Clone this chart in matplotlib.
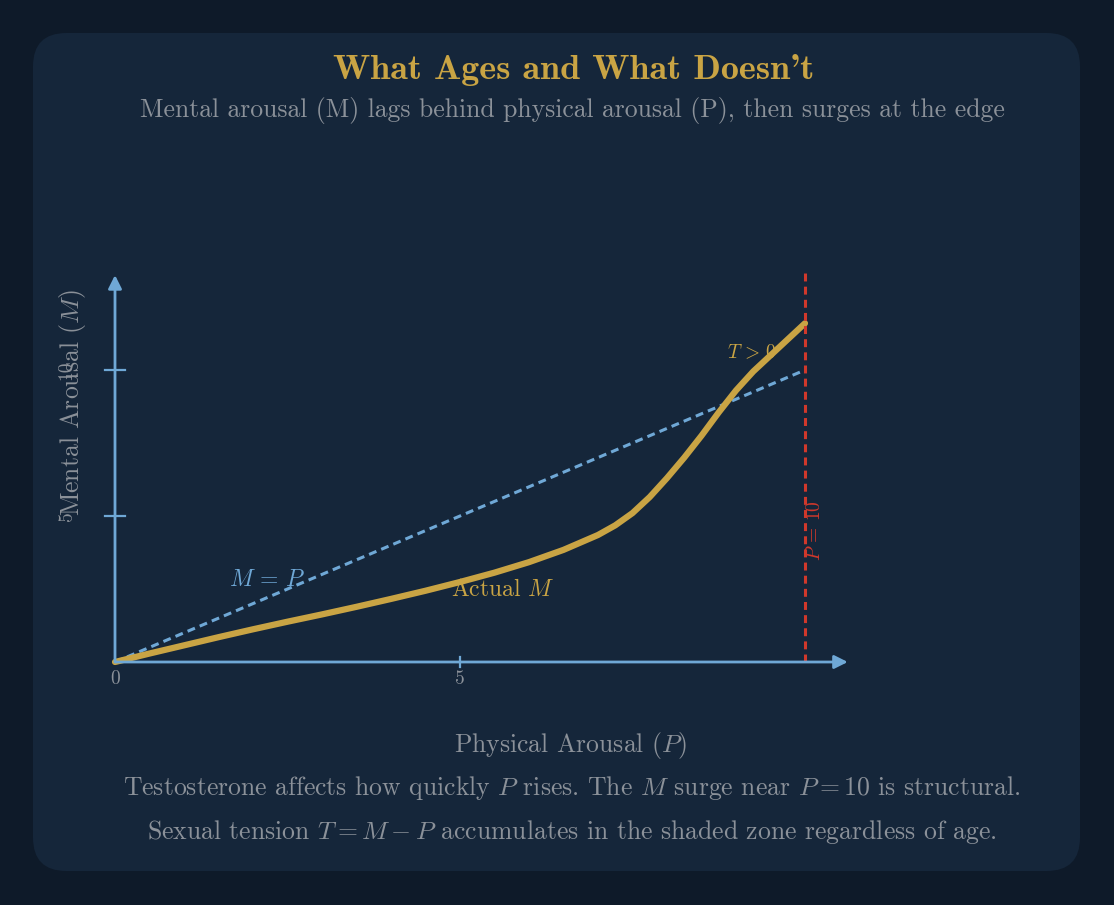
import matplotlib
matplotlib.use('Agg')
import matplotlib.pyplot as plt
from matplotlib.patches import FancyBboxPatch

# chart data
p_vals = [0, 0.5, 1, 1.5, 2, 2.5, 3, 3.5, 4, 4.5, 5, 5.5, 6, 6.5, 7, 7.25, 7.5, 7.75,
          8, 8.25, 8.5, 8.75, 9, 9.25, 9.5, 9.75, 10]
m_actual = [0, 0.29, 0.57, 0.85, 1.12, 1.38, 1.63, 1.89, 2.16, 2.44, 2.74, 3.06, 3.42, 3.84,
            4.35, 4.68, 5.1, 5.65, 6.3, 7.0, 7.75, 8.55, 9.3, 9.95, 10.5, 11.05, 11.6]
diag_p = [0, 10]
diag_m = [0, 10]
x_ticks = [0, 5]
y_ticks = [5, 10]
limit_p = 10

title = "What Ages and What Doesn't"
subtitle = "Mental arousal (M) lags behind physical arousal (P), then surges at the edge"
footer1 = r"Testosterone affects how quickly $P$ rises. The $M$ surge near $P = 10$ is structural."
footer2 = r"Sexual tension $T = M - P$ accumulates in the shaded zone regardless of age."

BG = '#0e1a29'
PANEL = '#15263a'
GOLD = '#c9a444'
GREY = '#8b9199'
BLUE = '#6fa8d6'
RED = '#d0382b'

plt.rcParams['font.family'] = ['cmr10', 'DejaVu Serif']
plt.rcParams['mathtext.fontset'] = 'cm'
plt.rcParams['axes.unicode_minus'] = False

W, H = 1114, 905
fig = plt.figure(figsize=(W / 100, H / 100), dpi=100, facecolor=BG)

def fx(px):
    return px / W

def fy(py):
    return 1 - py / H

# rounded panel
panel = FancyBboxPatch((fx(33), fy(871)), fx(1080) - fx(33), fy(33) - fy(871),
                       boxstyle='round,pad=0,rounding_size=0.03',
                       transform=fig.transFigure, facecolor=PANEL, edgecolor='none',
                       mutation_aspect=W / H, zorder=-5)
fig.patches.append(panel)

# axes mapped so that data P/M land where the reference puts them
ax = fig.add_axes([0, 0, 1, 1])
ax.set_zorder(3)
ax.set_facecolor('none')
ax.axis('off')
sx, sy = 69.0, 29.2
ox, oy = 115, 662
ax.set_xlim(-ox / sx, (W - ox) / sx)
ax.set_ylim(-(H - oy) / sy, oy / sy)

# axes arrows
ax.annotate('', xy=(10.62, 0), xytext=(0, 0),
            arrowprops=dict(arrowstyle='-|>', color=BLUE, lw=2, mutation_scale=20,
                            shrinkA=0, shrinkB=0))
ax.annotate('', xy=(0, 13.25), xytext=(0, 0),
            arrowprops=dict(arrowstyle='-|>', color=BLUE, lw=2, mutation_scale=20,
                            shrinkA=0, shrinkB=0))

for t in x_ticks[1:]:
    ax.plot([t, t], [-0.18, 0.18], color=BLUE, lw=1.6)
for t in y_ticks:
    ax.plot([-0.15, 0.15], [t, t], color=BLUE, lw=1.6)
for t in x_ticks:
    ax.text(t, -0.6, str(t), color=GREY, fontsize=14, ha='center', va='center')
for t in y_ticks:
    ax.text(-0.7, t, str(t), color=GREY, fontsize=14, ha='center', va='center', rotation=90)

# lines
ax.plot(diag_p, diag_m, color=BLUE, lw=2.2, dashes=(2.6, 1.7))
ax.plot(p_vals, m_actual, color=GOLD, lw=4.5, solid_capstyle='round', solid_joinstyle='round')
ax.plot([limit_p, limit_p], [0, 13.4], color=RED, lw=2.2, dashes=(2.6, 1.7))

ax.text(2.2, 2.81, r'$M\,=\,P$', color=BLUE, fontsize=17, ha='center', va='center')
ax.text(5.62, 2.47, r'Actual $M$', color=GOLD, fontsize=17, ha='center', va='center')
ax.text(9.23, 10.6, r'$T\,>\,0$', color=GOLD, fontsize=14, ha='center', va='center')
ax.text(10.14, 4.5, r'$P\,=\,10$', color=RED, fontsize=14, ha='center', va='center', rotation=90)

# text outside plot
fig.text(fx(574), fy(70), title, color=GOLD, fontsize=26, family=['cmb10', 'DejaVu Serif'],
         ha='center', va='center')
fig.text(fx(572), fy(111), subtitle, color=GREY, fontsize=18.5, ha='center', va='center')
fig.text(fx(72), fy(402), r'Mental Arousal ($M$)', color=GREY, fontsize=18.5,
         ha='center', va='center', rotation=90)
fig.text(fx(571), fy(745), r'Physical Arousal ($P$)', color=GREY, fontsize=18.5,
         ha='center', va='center')
fig.text(fx(572), fy(788), footer1, color=GREY, fontsize=18.5, ha='center', va='center')
fig.text(fx(572), fy(832), footer2, color=GREY, fontsize=18.5, ha='center', va='center')

fig.savefig('out.png', dpi=100, facecolor=BG)
